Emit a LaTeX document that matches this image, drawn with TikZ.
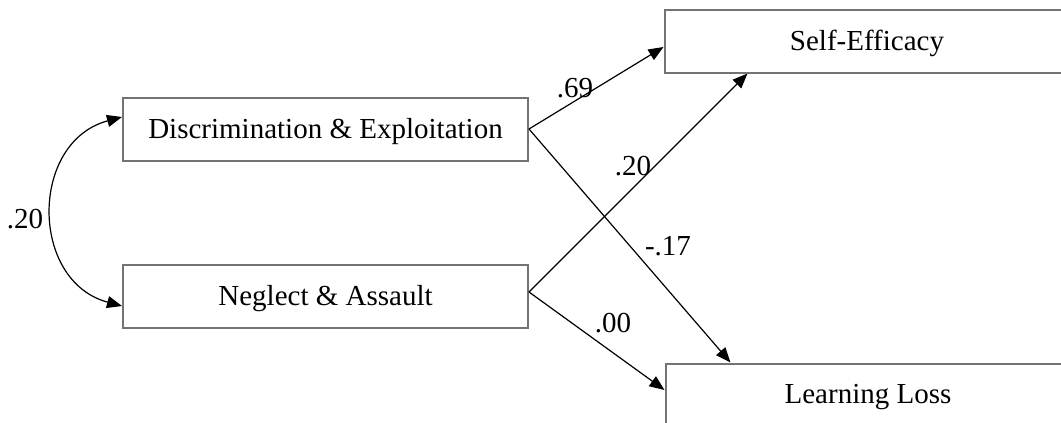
\documentclass[tikz,border=0pt]{standalone}
\usepackage{fontspec}
\setmainfont{Liberation Serif}
\usepackage{tikz}
\usetikzlibrary{arrows.meta, positioning}

\tikzset{
  varbox/.style={draw=black!55, line width=1pt, fill=white,
                 minimum width=202.5pt, minimum height=31.5pt,
                 inner sep=0pt, text depth=1pt,
                 font=\fontsize{14.5}{16}\selectfont},
  tip/.style={Triangle[length=7.5pt,width=6pt]},
  path/.style={-{Triangle[length=7.5pt,width=6pt]}, line width=0.6pt},
  coef/.style={font=\fontsize{14.5}{16}\selectfont, inner sep=0pt}
}

\begin{document}
\begin{tikzpicture}[x=0.5pt, y=-0.5pt]
  \clip (0,0) rectangle (1061,423);
  \fill[white] (0,0) rectangle (1061,423);

  % Exogenous variables
  \node[varbox] (disc) at (325.5,129) {Discrimination \& Exploitation};
  \node[varbox] (negl) at (325.5,296) {Neglect \& Assault};

  % Outcomes
  \node[varbox] (self) at (867,41)  {Self-Efficacy};
  \node[varbox] (loss) at (868,395) {Learning Loss};

  % Paths
  \draw[path] (disc.east) -- ([yshift=-3pt]self.west);
  \draw[path] (disc.east) -- ([xshift=33pt]loss.north west);
  \draw[path] ([yshift=2pt]negl.east) -- ([xshift=42pt]self.south west);
  \draw[path] ([yshift=2pt]negl.east) -- ([yshift=2.5pt]loss.west);

  % Correlation
  \draw[{Triangle[length=7.5pt,width=6pt]}-{Triangle[length=7.5pt,width=6pt]}, line width=0.6pt]
    ([yshift=6pt]disc.west) to[out=195, in=165, looseness=1.3] ([yshift=-5pt]negl.west);

  % Coefficients
  \node[coef] (c1) at (575,88)  {.69};
  \node[coef] (c2) at (633,166) {.20};
  \node[coef] (c3) at (668,246) {-.17};
  \node[coef] (c4) at (613,323) {.00};
  \node[coef] (c5) at (25,219)  {.20};
\end{tikzpicture}
\end{document}
